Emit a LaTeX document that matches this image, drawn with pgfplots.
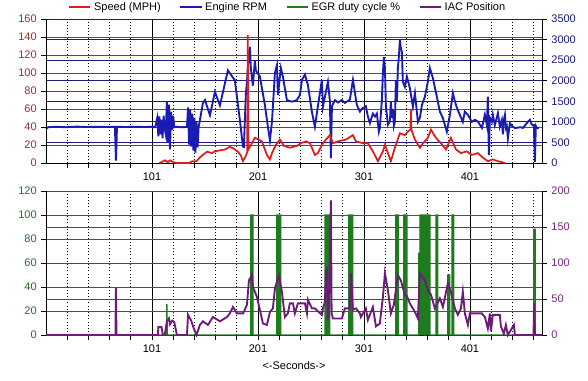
\documentclass[border=0pt]{standalone}
\usepackage{pgfplots}
\pgfplotsset{compat=1.18}
\usepackage{fontspec}
\setmainfont{Liberation Sans}
\definecolor{spd}{HTML}{DD1C1C}
\definecolor{rpm}{HTML}{1A1AB4}
\definecolor{egr}{HTML}{1E7B1E}
\definecolor{iac}{HTML}{6E1A78}
\definecolor{gmaroon}{HTML}{973030}
\definecolor{gnavy}{HTML}{1A1A80}
\definecolor{ggreen}{HTML}{2A6A2A}
\definecolor{gpurple}{HTML}{742A7E}
\newcommand\fs{\fontsize{8.25}{10}\selectfont}
\pgfplotsset{
  base/.style={scale only axis, width=372pt, height=108pt, xmin=1, xmax=469, anchor=south west,
    ticklabel style={font=\fs}, /pgf/number format/assume math mode=true, /pgf/number format/1000 sep={},
    tick align=outside, major tick length=3.5pt, minor tick length=3.5pt, tick style={black, line width=0.6pt},
    axis line style={black, line width=0.75pt, -}},
  gridonly/.style={base, axis line style={draw=none}, xticklabels={}, yticklabels={}, major tick length=0pt, minor tick length=0pt},
  vgrid/.style={gridonly, ymin=0, ymax=1, ytick=\empty, xtick={101,201,301,401},
    minor xtick={21,41,61,81,121,141,161,181,221,241,261,281,321,341,361,381,421,441,461},
    xmajorgrids, xminorgrids, major grid style={black, line width=0.6pt}, minor grid style={black, dotted, line width=0.6pt}},
  xax/.style={xtick={101,201,301,401}, minor xtick={21,41,61,81,121,141,161,181,221,241,261,281,321,341,361,381,421,441,461}},
}
\begin{document}
\begin{tikzpicture}
\useasboundingbox (0,0) rectangle (441pt,285pt);
% ---------------- TOP PANEL ----------------
\begin{axis}[vgrid, at={(34.5pt,162.75pt)}]
\end{axis}
\begin{axis}[gridonly, at={(34.5pt,162.75pt)}, ymin=0, ymax=160, ytick={0,20,...,160}, xtick=\empty,
  ymajorgrids, major grid style={gmaroon, line width=0.65pt}]
\end{axis}
\begin{axis}[base, at={(34.5pt,162.75pt)}, ymin=0, ymax=3500, ytick={0,500,...,3500},
  axis y line*=right, axis x line=none, ymajorgrids, major grid style={gnavy, line width=0.65pt},
  yticklabel style={gnavy}, clip=false]
\addplot[rpm, line width=1.4pt] coordinates {
(1,830)(3,870)(10,880)(20,870)(30,885)(40,875)(50,880)(60,875)(66,880)(67,60)(68,880)(75,875)(85,880)(95,875)(101,880)(104,870)
(106,1100)(107,650)(108,1130)(109,700)(110,1050)(111,600)(112,1150)(113,850)(114,700)(115,1480)(116,500)(117,1420)(118,330)(119,1250)(120,800)(121,1150)(122,870)(124,880)
(128,870)(134,875)
(135,1350)(136,450)(137,1300)(138,400)(139,1200)(140,300)(141,1100)(142,250)(143,1000)(144,380)(145,870)
(149.1,1460)(151,1530)(155.7,1160)(160.4,1730)(165.1,1400)(172.6,2250)(179.2,2010)(184,1030)(186.8,400)(187.7,390)(189.6,1700)(190.6,1970)(192.5,2650)(193.4,2820)(194.3,2300)(196.2,1880)(198.1,2490)(199,2250)(202.8,2100)(207.6,1400)(210.4,870)(212.3,550)(214.2,1000)(217,2190)(218.9,2380)(219.8,1650)(222.6,2310)(224.5,2100)(228.3,1530)(233,1490)(237.7,1530)(240.6,1650)(242.5,2020)(245.3,2150)(248.1,1900)(251.9,1240)(254.7,880)(257.5,1370)(261.3,2020)(262.3,1370)(265.1,1730)(267,1975)(268.9,1500)(269.8,120)(270.8,1380)(273.6,1530)(276.5,1470)(280.2,1530)(283,1460)(287.7,1540)(290.6,2020)(294.3,1410)(297.2,1250)(299.1,1320)(302.8,1380)(304.7,1130)(306.6,970)(309.4,1200)(311.4,1130)(313.2,1200)(315.1,760)(316,850)(317.9,1530)(318.9,2200)(319.8,2580)(320.8,2300)(321.7,1380)(323.6,930)(325.5,1010)(326.4,1500)(327.4,1100)(328.3,1300)(329.2,900)(330.2,1000)(331.1,2000)(332.1,1500)(333,2310)(334,2600)(334.9,2990)(335.8,2800)(336.8,2700)(337.7,1975)(339.6,1850)(341.5,2100)(344.3,1820)(347.2,1370)(349.1,1700)(351.9,1000)(353.8,1100)(355.7,1410)(358.5,1610)(361.3,1975)(363.2,2310)(366,2065)(369.8,1610)(372.6,1250)(375.5,1090)(379.2,760)(382.1,1170)(384.9,1700)(386.8,1500)(388.7,1340)(391.5,1170)(394.3,1000)(396.2,1250)(399.1,1170)(402.8,1000)(405.7,1050)(408.5,1010)(412.3,850)(415.1,1175)(417,920)(417.9,1610)(418.9,195)(419.8,1100)(421.7,1000)(422.6,1175)(424.5,920)(427.4,1215)(429.2,880)(431.1,1050)(432.1,700)(433,1050)(434,1170)(434.9,850)(435.8,900)(436.8,600)(438.7,970)(440.6,900)(443.4,850)(449,870)(450.9,850)(455.7,1000)(457.6,1050)(459.4,930)(461.3,920)(462.3,30)(463.2,900)(464.2,850)(466,850)
};
\end{axis}
\begin{axis}[base, xax, at={(34.5pt,162.75pt)}, ymin=0, ymax=160, ytick={0,20,...,160},
  axis y line*=left, axis x line*=bottom, yticklabel style={gmaroon}, clip=false,
  legend columns=4,
  legend image code/.code={\draw[#1, line width=1.4pt] (0pt,0pt) -- (16pt,0pt);},
  legend style={draw=none, fill=none, font=\fs, at={(0.488,1)}, anchor=south, yshift=1pt,
    /tikz/every even column/.append style={column sep=12pt}}]
\addplot[spd, line width=1.3pt] coordinates {
(108,0)(110,1)(113,3)(116,1)(118,3)(121,1)(124,0)(136,0)(139,2)(143,2)(146,6)(149,9)(153,12.6)(157.5,11)(160.4,13)(165.1,14)(170,15)(174.5,18)(178,16)(182.1,12.6)(185,8)(186.8,2)(189.6,8)(190.8,12)(191.4,142)(192,15)(194.3,20)(198.1,28)(200,27)(204.7,24)(209.4,9)(212.3,4)(214.2,11)(217.9,20)(221.7,26)(225.5,19)(231.1,17)(237.7,19)(241.5,22)(246.3,24)(250,22)(254.7,9)(257.5,11)(262.3,22)(265.1,26)(268.9,31)(271.7,22)(276.5,24)(284,26)(290.6,31)(293.4,24)(300,22)(304.7,22)(309.4,13)(314.2,2)(318.9,13)(320.8,20)(323.6,11)(326.4,2)(330.2,17)(334.9,33)(339.6,31)(342.5,35)(344.8,37)(345.3,60)(345.8,37)(349.1,26)(353.8,17)(356.7,22)(361.3,28)(364.2,37)(368.9,28)(373.6,22)(378.4,15)(383,28)(387.8,15)(392.5,11)(398,13)(402.8,9)(408.5,11)(413.2,6)(417.9,2)(422.6,4)(427.4,2)(431,1)(434,0)
};
\addlegendentry{Speed (MPH)}
\addlegendimage{rpm}
\addlegendentry{Engine RPM}
\addlegendimage{egr}
\addlegendentry{EGR duty cycle \%}
\addlegendimage{iac}
\addlegendentry{IAC Position}
\end{axis}
% ---------------- BOTTOM PANEL ----------------
\begin{axis}[vgrid, at={(34.5pt,33.75pt)}]
\end{axis}
\begin{axis}[gridonly, at={(34.5pt,33.75pt)}, ymin=0, ymax=120, ytick={0,20,...,120}, xtick=\empty,
  ymajorgrids, major grid style={ggreen, line width=0.65pt}]
\end{axis}
\begin{axis}[base, at={(34.5pt,33.75pt)}, ymin=0, ymax=200, ytick={0,50,...,200},
  axis y line*=right, axis x line=none, ymajorgrids, major grid style={gpurple, line width=0.65pt},
  yticklabel style={gpurple}]
\end{axis}
\begin{axis}[base, xax, at={(34.5pt,33.75pt)}, ymin=0, ymax=120, ytick={0,20,...,120},
  axis y line*=left, axis x line*=bottom, yticklabel style={ggreen}, clip=false,
  xlabel={<-Seconds->}, xlabel style={font=\fs}]
\addplot[draw=egr, fill=egr, line width=1pt] coordinates {
(1,0)
(114.7,0)(115,26)(115.4,0)
(194.2,0)(194.2,100)(196.3,100)(196.3,0)
(218.8,0)(218.8,100)(222.4,100)(222.4,0)
(264.3,0)(264.3,100)(265.8,100)(265.8,0)
(267.4,0)(267.4,100)(268.6,100)(268.6,0)
(286.8,0)(286.8,100)(290.4,100)(290.4,0)
(331.1,0)(331.1,100)(333.6,100)(333.6,0)
(338.7,0)(338.7,100)(341.5,100)(341.5,0)
(352.8,0)(352.8,68)(353.8,68)(353.8,100)(358.2,100)(358.2,0)
(359.4,0)(359.4,100)(363.2,100)(363.2,0)
(368.9,0)(368.9,100)(370.6,100)(370.6,0)
(380.2,0)(380.2,50)(382,50)(382,0)
(384,0)(384,100)(385.6,100)(385.6,0)
(461.3,0)(461.3,88)(462.5,88)(462.5,0)
(469,0)
};
\end{axis}
\begin{axis}[base, at={(34.5pt,33.75pt)}, ymin=0, ymax=200, hide axis, clip=false]
\addplot[iac, line width=1.4pt] coordinates {
(1,0)(66.5,0)(67,65)(67.5,0)(106.6,0)(107,11)(110,11)(111.3,0)(113,0)(115,18)(117,23)(118,15)(120,20)(122,18)(124.5,0)(134,0)(135,28)(138,20)(140,11)(143,0)(146.2,14)(149.1,19)(153.8,14)(158.5,25)(165.1,19)(171.7,25)(174.5,30)(177.4,39)(181.1,30)(187,30)(190.6,42)(192.5,76)(195.3,83)(196.2,67)(200,53)(202.8,35)(205.7,16)(209.4,14)(212.3,32)(215.1,37)(217,65)(220.8,83)(223.6,60)(226.4,25)(229.2,30)(231.1,44)(234,44)(235.8,30)(238.7,44)(245.3,44)(247.2,30)(248.1,49)(251.9,37)(254.7,37)(257.5,33)(261.3,28)(262.3,37)(264.2,46)(265,86)(266,95)(267,20)(268,30)(269.8,187)(270.5,30)(271.7,23)(280.2,23)(283,37)(287.7,37)(288.7,86)(290.6,35)(293.4,37)(297.2,30)(298.1,25)(302.8,37)(304.7,21)(309.4,39)(312.3,12)(316,16)(318.9,53)(320.8,86)(323.6,62)(326.4,30)(329.2,42)(333,83)(335.8,76)(339.6,56)(341.5,54)(344.3,44)(349.1,32)(351.9,23)(353.8,86)(358.5,76)(361.3,62)(364.2,56)(367.9,37)(372.6,51)(375.5,39)(380.2,72)(383,60)(386.8,37)(389.6,28)(392.5,37)(394.3,60)(396.2,30)(399.1,14)(400.9,30)(412.3,30)(415.1,25)(417.9,9)(419.8,30)(420.8,5)(422.6,28)(429.2,28)(430.2,12)(433,2)(434.9,14)(436.8,0)(442.5,14)(443.4,0)(461,0)(461.5,44)(462.3,0)(469,0)
};
\end{axis}
\end{tikzpicture}
\end{document}
